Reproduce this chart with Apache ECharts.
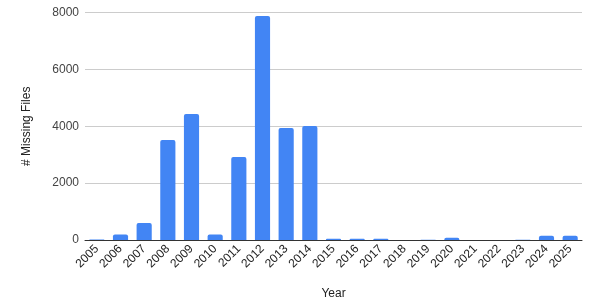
<!DOCTYPE html>
<html><head><meta charset="utf-8">
<script src="https://cdn.jsdelivr.net/npm/echarts@6/dist/echarts.min.js"></script>
<style>html,body{margin:0;padding:0;background:#fff}#c{width:600px;height:303px}</style>
</head><body><div id="c"></div>
<script>
const categories = ['2005','2006','2007','2008','2009','2010','2011','2012','2013','2014','2015','2016','2017','2018','2019','2020','2021','2022','2023','2024','2025'];
const missingFiles = [15,190,600,3520,4430,190,2920,7880,3940,4010,40,40,40,0,12,80,0,0,12,150,150];
const yTicks = [0,2000,4000,6000,8000];

const chart = echarts.init(document.getElementById('c'), null, {renderer:'canvas'});
chart.setOption({
  animation:false,
  grid:{left:85,right:18,top:12.5,bottom:63,containLabel:false,outerBoundsMode:'none'},
  xAxis:{
    type:'category', data:categories,
    name:'Year', nameLocation:'middle', nameGap:48,
    nameTextStyle:{fontFamily:'Liberation Sans, Arial',fontSize:12,color:'#222'},
    axisLine:{lineStyle:{color:'#333',width:1}},
    axisTick:{show:false},
    axisLabel:{rotate:45,interval:0,fontFamily:'Liberation Sans, Arial',fontSize:12,color:'#222',margin:7}
  },
  yAxis:{
    type:'value', min:yTicks[0], max:yTicks[yTicks.length-1], interval:2000,
    name:'# Missing Files', nameLocation:'middle', nameGap:52,
    nameTextStyle:{fontFamily:'Liberation Sans, Arial',fontSize:12,color:'#222'},
    axisLine:{show:false}, axisTick:{show:false},
    axisLabel:{fontFamily:'Liberation Sans, Arial',fontSize:12,color:'#444',margin:6,formatter:v=>String(v)},
    splitLine:{lineStyle:{color:'#cccccc',width:1}}
  },
  series:[{
    type:'bar', data:missingFiles, barCategoryGap:'36%',
    itemStyle:{color:'#4285F4',borderRadius:[2,2,0,0]}
  }]
});
</script></body></html>
